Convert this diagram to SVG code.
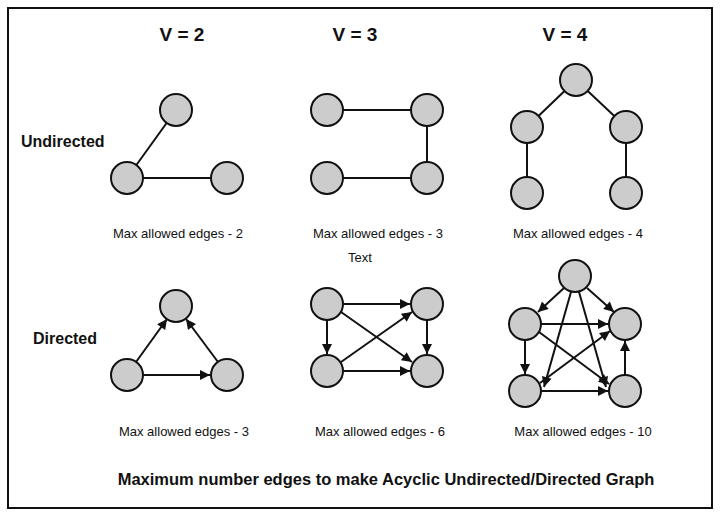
<svg xmlns="http://www.w3.org/2000/svg" width="720" height="519" viewBox="0 0 720 519">
<style>
.n{fill:#cccccc;stroke:#111;stroke-width:2}
.e{stroke:#111;stroke-width:2;fill:none}
.h{font-family:"Liberation Sans",Arial,sans-serif;font-weight:bold;font-size:19px;text-anchor:middle;fill:#111}
.s{font-family:"Liberation Sans",Arial,sans-serif;font-size:13px;text-anchor:middle;fill:#111}
.l{font-family:"Liberation Sans",Arial,sans-serif;font-weight:bold;font-size:16px;fill:#111}
</style>
<defs>
<marker id="ar2" viewBox="0 0 10 10" refX="10" refY="5" markerWidth="12" markerHeight="10" markerUnits="userSpaceOnUse" orient="auto"><path d="M0,0L10,5L0,10z" fill="#111"/></marker></defs>
<rect width="720" height="519" fill="#fff"/>
<rect x="8" y="8" width="704" height="500" fill="none" stroke="#111" stroke-width="2"/>
<g id="labels">
<text class="h" x="182" y="41">V = 2</text>
<text class="h" x="355" y="41">V = 3</text>
<text class="h" x="565" y="41">V = 4</text>
<text class="l" x="21" y="147">Undirected</text>
<text class="l" x="33" y="344">Directed</text>
<text class="s" x="178" y="238">Max allowed edges - 2</text>
<text class="s" x="378" y="238">Max allowed edges - 3</text>
<text class="s" x="360" y="262">Text</text>
<text class="s" x="578" y="238">Max allowed edges - 4</text>
<text class="s" x="184" y="436">Max allowed edges - 3</text>
<text class="s" x="380" y="436">Max allowed edges - 6</text>
<text class="s" x="583" y="436">Max allowed edges - 10</text>
<text class="l" x="386" y="485" text-anchor="middle" style="font-size:16.5px">Maximum number edges to make Acyclic Undirected/Directed Graph</text>
</g>
<g id="connectors">
<line class="e" x1="127" y1="178" x2="176" y2="110"/><line class="e" x1="127" y1="178" x2="227" y2="178"/>
<line class="e" x1="327" y1="110" x2="427" y2="110"/><line class="e" x1="427" y1="110" x2="427" y2="178"/><line class="e" x1="327" y1="178" x2="427" y2="178"/>
<line class="e" x1="576" y1="80" x2="527" y2="127"/><line class="e" x1="576" y1="80" x2="626" y2="127"/><line class="e" x1="527" y1="127" x2="527" y2="193"/><line class="e" x1="626" y1="127" x2="626" y2="193"/>
<g style="marker-end:url(#ar2)">
<line class="e" x1="136" y1="362" x2="167" y2="319"/>
<line class="e" x1="218" y1="362" x2="186" y2="319"/>
<line class="e" x1="143" y1="375" x2="210" y2="375"/>
<line class="e" x1="343" y1="304" x2="410" y2="304"/>
<line class="e" x1="327" y1="320" x2="327" y2="354"/>
<line class="e" x1="427" y1="320" x2="427" y2="354"/>
<line class="e" x1="341" y1="312" x2="412" y2="362"/>
<line class="e" x1="341" y1="362" x2="412" y2="312"/>
<line class="e" x1="343" y1="371" x2="410" y2="371"/>
<line class="e" x1="564" y1="288" x2="538" y2="312"/>
<line class="e" x1="587" y1="288" x2="614" y2="312"/>
<line class="e" x1="571" y1="292" x2="544" y2="387"/>
<line class="e" x1="579" y1="292" x2="606" y2="387"/>
<line class="e" x1="541" y1="324" x2="608" y2="324"/>
<line class="e" x1="539" y1="332" x2="609" y2="384"/>
<line class="e" x1="525" y1="340" x2="525" y2="374"/>
<line class="e" x1="540" y1="383" x2="610" y2="331"/>
<line class="e" x1="541" y1="391" x2="608" y2="391"/>
<line class="e" x1="625" y1="375" x2="625" y2="341"/>
</g>
</g>
<g id="u2a"><circle class="n" cx="176" cy="110" r="16"/></g>
<g id="u2b"><circle class="n" cx="127" cy="178" r="16"/></g>
<g id="u2c"><circle class="n" cx="227" cy="178" r="16"/></g>
<g id="u3a"><circle class="n" cx="327" cy="110" r="16"/></g>
<g id="u3b"><circle class="n" cx="427" cy="110" r="16"/></g>
<g id="u3c"><circle class="n" cx="327" cy="178" r="16"/></g>
<g id="u3d"><circle class="n" cx="427" cy="178" r="16"/></g>
<g id="u4a"><circle class="n" cx="576" cy="80" r="16"/></g>
<g id="u4b"><circle class="n" cx="527" cy="127" r="16"/></g>
<g id="u4c"><circle class="n" cx="626" cy="127" r="16"/></g>
<g id="u4d"><circle class="n" cx="527" cy="193" r="16"/></g>
<g id="u4e"><circle class="n" cx="626" cy="193" r="16"/></g>
<g id="d2a"><circle class="n" cx="176" cy="306" r="16"/></g>
<g id="d2b"><circle class="n" cx="127" cy="375" r="16"/></g>
<g id="d2c"><circle class="n" cx="227" cy="375" r="16"/></g>
<g id="d3a"><circle class="n" cx="327" cy="304" r="16"/></g>
<g id="d3b"><circle class="n" cx="427" cy="304" r="16"/></g>
<g id="d3c"><circle class="n" cx="327" cy="371" r="16"/></g>
<g id="d3d"><circle class="n" cx="427" cy="371" r="16"/></g>
<g id="d4a"><circle class="n" cx="575" cy="276" r="16"/></g>
<g id="d4b"><circle class="n" cx="525" cy="324" r="16"/></g>
<g id="d4c"><circle class="n" cx="625" cy="324" r="16"/></g>
<g id="d4d"><circle class="n" cx="525" cy="391" r="16"/></g>
<g id="d4e"><circle class="n" cx="625" cy="391" r="16"/></g>
</svg>
